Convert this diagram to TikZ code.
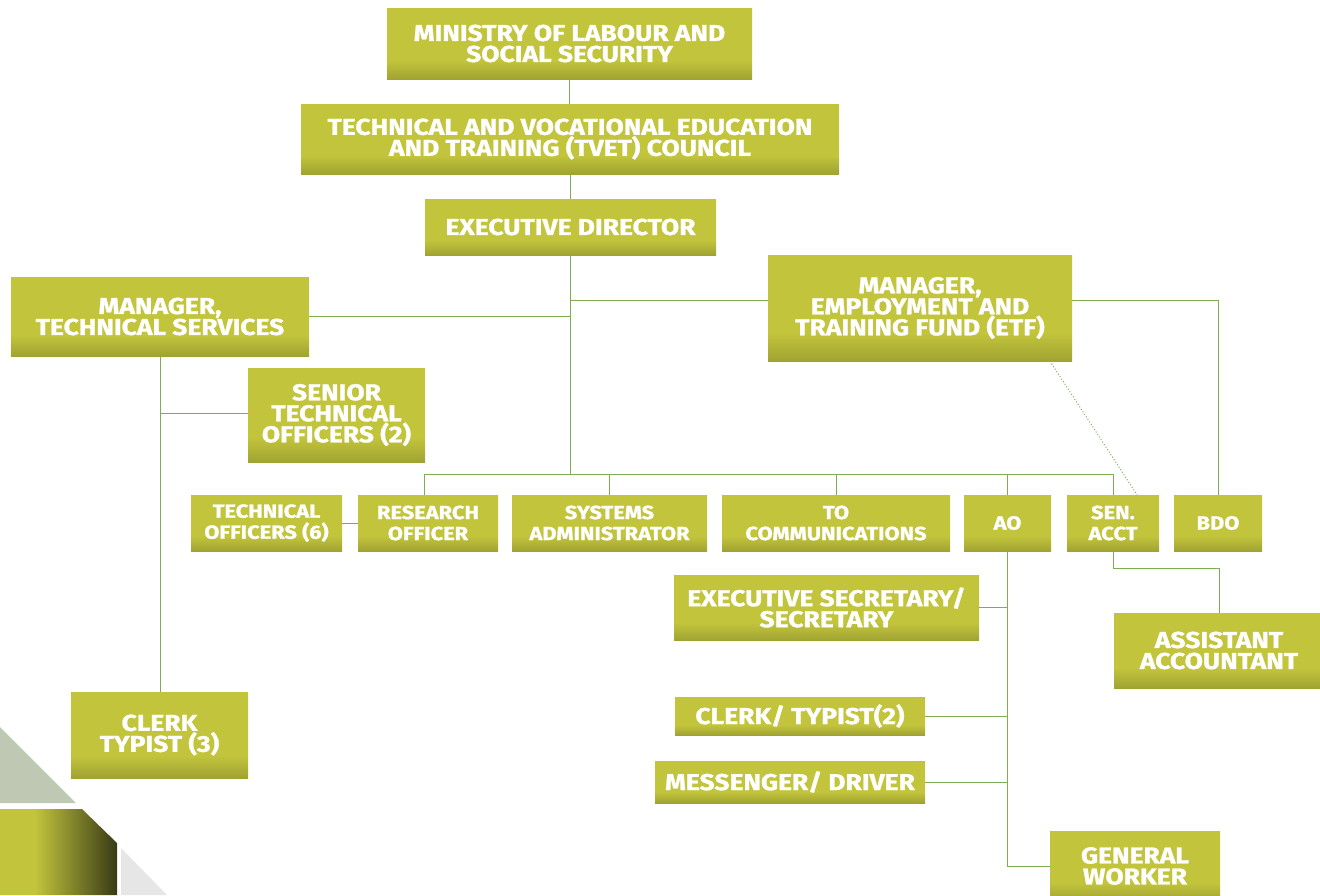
\documentclass[tikz,border=0pt]{standalone}
\usepackage{fontspec}
\setmainfont{Fira Sans}[BoldFeatures={FakeStretch=1.15, FakeBold=1.2}]
\usetikzlibrary{calc}
\definecolor{boxgreen}{HTML}{C2C43C}
\definecolor{boxdark}{HTML}{A0A331}
\definecolor{linegreen}{HTML}{7DAE52}
\definecolor{wedgegrey}{HTML}{BEC8B2}
\definecolor{wedgedark}{HTML}{383A16}
\definecolor{wedgelight}{HTML}{E6E6E6}
\pgfdeclareverticalshading{boxshade}{100bp}{color(0bp)=(boxdark); color(25bp)=(boxdark); color(38bp)=(boxgreen); color(100bp)=(boxgreen)}
\pgfdeclarehorizontalshading{wedgeshade}{100bp}{color(0bp)=(boxgreen); color(40bp)=(boxgreen); color(75bp)=(wedgedark); color(100bp)=(wedgedark)}
\tikzset{unit/.style={shading=boxshade, text=white, align=center, inner sep=0pt,
            font=\bfseries\fontsize{23}{21}\selectfont},
         small unit/.style={unit, font=\bfseries\fontsize{19}{21}\selectfont},
         link/.style={draw=linegreen, line width=1pt},
         dotlink/.style={link, dotted}}

\begin{document}
\begin{tikzpicture}[x=1pt, y=-1pt]
        \pgfmathsetmacro{\rowh}{56}
        \pgfmathsetmacro{\rowy}{523}
        \useasboundingbox (0,0) rectangle (1320,895);
        \coordinate (bus) at (0,474);
        %
        \fill[wedgegrey] (0,727) -- (76,803) -- (0,803) -- cycle;
        \shade[shading=wedgeshade] (0,809) -- (82,809) -- (117,843) -- (117,895) -- (0,895) -- cycle;
        \fill[wedgelight] (121,848) -- (167,895) -- (121,895) -- cycle;
        %
        \node[unit, minimum width=365pt, minimum height=71pt] (ministry) at (569.5,43.5) {MINISTRY OF LABOUR AND\\SOCIAL SECURITY};
        \node[unit, minimum width=538pt, minimum height=70pt] (tvet) at (570,139) {TECHNICAL AND VOCATIONAL EDUCATION\\AND TRAINING (TVET) COUNCIL};
        \node[unit, minimum width=291pt, minimum height=56pt] (exec) at (570.5,227) {EXECUTIVE DIRECTOR};
        \node[unit, minimum width=298pt, minimum height=79pt] (mantech) at (160,316.5) {MANAGER,\\TECHNICAL SERVICES};
        \node[unit, minimum width=304pt, minimum height=106pt] (manetf) at (920,308) {MANAGER,\\EMPLOYMENT AND\\TRAINING FUND (ETF)};
        \node[unit, minimum width=177pt, minimum height=94pt] (senior) at (336.5,415) {SENIOR\\TECHNICAL\\OFFICERS (2)};
        %
        \node[small unit, minimum width=151pt, minimum height=\rowh] (techoff) at (266.5,\rowy) {TECHNICAL\\OFFICERS (6)};
        \node[small unit, minimum width=140pt, minimum height=\rowh] (research) at (428,\rowy) {RESEARCH\\OFFICER};
        \node[small unit, minimum width=195pt, minimum height=\rowh] (sysadmin) at (609.5,\rowy) {SYSTEMS\\ADMINISTRATOR};
        \node[small unit, minimum width=228pt, minimum height=\rowh] (tocomm) at (836,\rowy) {TO\\COMMUNICATIONS};
        \node[small unit, minimum width=87pt, minimum height=\rowh] (ao) at (1007.5,\rowy) {AO};
        \node[small unit, minimum width=92pt, minimum height=\rowh] (senacct) at (1113,\rowy) {SEN.\\ACCT};
        \node[small unit, minimum width=88pt, minimum height=\rowh] (bdo) at (1218,\rowy) {BDO};
        %
        \node[unit, minimum width=305pt, minimum height=65pt] (execsec) at (826.5,607.5) {EXECUTIVE SECRETARY/\\SECRETARY};
        \node[unit, minimum width=250pt, minimum height=38pt] (clerktwo) at (800,716) {CLERK/ TYPIST(2)};
        \node[unit, minimum width=270pt, minimum height=42pt] (messenger) at (790,782) {MESSENGER/ DRIVER};
        \node[unit, minimum width=170pt, minimum height=70pt] (worker) at (1135,866) {GENERAL\\WORKER};
        \node[unit, minimum width=210pt, minimum height=75pt] (assist) at (1219,650.5) {ASSISTANT\\ACCOUNTANT};
        \node[unit, minimum width=177pt, minimum height=86pt] (clerkthree) at (159.5,735) {CLERK\\TYPIST (3)};
        %
        \draw[link] (ministry) -- (ministry |- tvet.north);
        \draw[link] (tvet) -- (tvet |- exec.north);
        \draw[link] (exec.south) -- (exec.south |- bus);
        \draw[link] ($(manetf.west)+(0,-8)$) -- (exec.south |- {$(manetf.west)+(0,-8)$});
        \draw[link] (mantech.east) -- (mantech.east -| exec.south);
        \draw[link] ($(manetf.east)+(0,-8)$) -| (bdo.north);
        \draw[dotlink] ($(manetf.south)+(130,0)$) -- ($(senacct.north)+(24,0)$);
        %
        \draw[link] ($(research.north)+(-4,0)$) |- (senacct.north |- bus);
        \foreach \n in {sysadmin, tocomm, ao, senacct}
            \draw[link] (\n.north) -- (\n.north |- bus);
        %
        \draw[link] (mantech.south) -- (mantech.south |- clerkthree.north);
        \draw[link] ($(senior.west)+(0,-2)$) -- (mantech.south |- {$(senior.west)+(0,-2)$});
        \draw[link] ($(senior.south)+(12,0)$) -- ($(senior.south)+(12,0)$ |- research.west);
        \draw[link] (techoff.east) -- (research.west);
        %
        \draw[link] (ao.south) |- (worker.west);
        \foreach \n in {execsec, clerktwo, messenger}
            \draw[link] (\n.east) -- (\n.east -| ao.south);
        \draw[dotlink] ($(execsec.south)+(-34,0)$) -- ($(execsec.south)+(-34,0)$ |- clerktwo.north);
        \draw[link] (senacct.south) -- ++(0,17) -| (assist.north);
    \end{tikzpicture}
\end{document}
